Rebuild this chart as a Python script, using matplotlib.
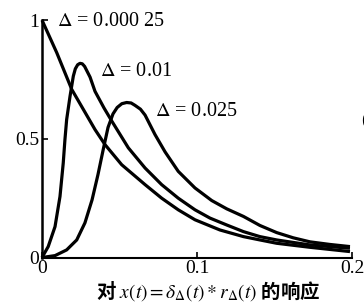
import matplotlib
matplotlib.use("Agg")
import matplotlib.pyplot as plt

plt.rcParams['font.family'] = ['Liberation Serif', 'DejaVu Serif']
plt.rcParams['mathtext.fontset'] = 'stix'

# values
t_a = [0, 0.0095, 0.0192, 0.0342, 0.0406, 0.0514, 0.0665, 0.0772, 0.0879,
       0.0987, 0.1148, 0.130, 0.1406, 0.1514, 0.1729, 0.1987]
y_a = [1.0, 0.863, 0.708, 0.539, 0.476, 0.391, 0.307, 0.250, 0.201,
       0.159, 0.116, 0.088, 0.074, 0.060, 0.043, 0.025]

t_b = [0, 0.004, 0.0084, 0.0116, 0.0137, 0.0148, 0.0159, 0.0181, 0.0202,
       0.0215, 0.023, 0.0245, 0.026, 0.0275, 0.031, 0.0342, 0.040, 0.045,
       0.0557, 0.0665, 0.0772, 0.0879, 0.0987, 0.1084, 0.1192, 0.130,
       0.1406, 0.1514, 0.1729, 0.1987]
y_b = [0, 0.046, 0.130, 0.257, 0.398, 0.497, 0.581, 0.680, 0.764,
       0.795, 0.812, 0.818, 0.816, 0.805, 0.760, 0.700, 0.630, 0.575,
       0.462, 0.377, 0.307, 0.250, 0.201, 0.166, 0.137, 0.109,
       0.088, 0.074, 0.053, 0.039]

t_c = [0, 0.0084, 0.0159, 0.0224, 0.0277, 0.0323, 0.0361, 0.0395, 0.0426,
       0.0458, 0.0485, 0.0515, 0.0546, 0.0575, 0.060, 0.0635, 0.0665,
       0.0729, 0.0794, 0.0879, 0.0987, 0.1095, 0.1192, 0.130, 0.1406,
       0.1514, 0.1621, 0.1729, 0.1858, 0.1987]
y_c = [0, 0.008, 0.032, 0.074, 0.146, 0.243, 0.349, 0.455, 0.548,
       0.605, 0.632, 0.648, 0.653, 0.651, 0.641, 0.625, 0.600,
       0.518, 0.445, 0.363, 0.293, 0.240, 0.205, 0.173, 0.135,
       0.105, 0.083, 0.066, 0.055, 0.046]

labels = [r"$\Delta$ = 0.000 25", r"$\Delta$ = 0.01", r"$\Delta$ = 0.025"]
label_pos = [(0.0097, 0.996), (0.0374, 0.784), (0.0729, 0.615)]

fig = plt.figure(figsize=(3.64, 3.05), dpi=100)
ax = fig.add_axes([0.1154, 0.1557, 0.967 - 0.1154, 0.934 - 0.1557])

for t, y in [(t_a, y_a), (t_b, y_b), (t_c, y_c)]:
    ax.plot(t, y, color='black', lw=2.3, solid_joinstyle='round',
            solid_capstyle='butt', clip_on=False)

for s, (x, y) in zip(labels, label_pos):
    ax.text(x, y, s, fontsize=14.5, va='center', ha='left')

ax.set_xlim(0, 0.2)
ax.set_ylim(0, 1)
ax.set_xticks([0, 0.1, 0.2])
ax.set_xticklabels(['0', '0.1', '0.2'])
ax.set_yticks([0, 0.5, 1])
ax.set_yticklabels(['0', '0.5', '1'])
ax.tick_params(direction='in', length=4, width=1.2, labelsize=14, pad=2)
for side in ['top', 'right']:
    ax.spines[side].set_visible(False)
ax.spines['left'].set_linewidth(1.8)
ax.spines['bottom'].set_linewidth(1.5)

fig.text(0.571, 0.047, r"对 $x(t)=\delta_\Delta(t)*r_\Delta(t)$ 的响应",
         ha='center', va='center', fontsize=14, fontweight='bold',
         family=['Noto Sans CJK SC', 'DejaVu Sans'])
fig.text(0.993, 1 - 120 / 305, "(b)", ha='left', va='center', fontsize=14)

fig.savefig('out.png', dpi=100)
